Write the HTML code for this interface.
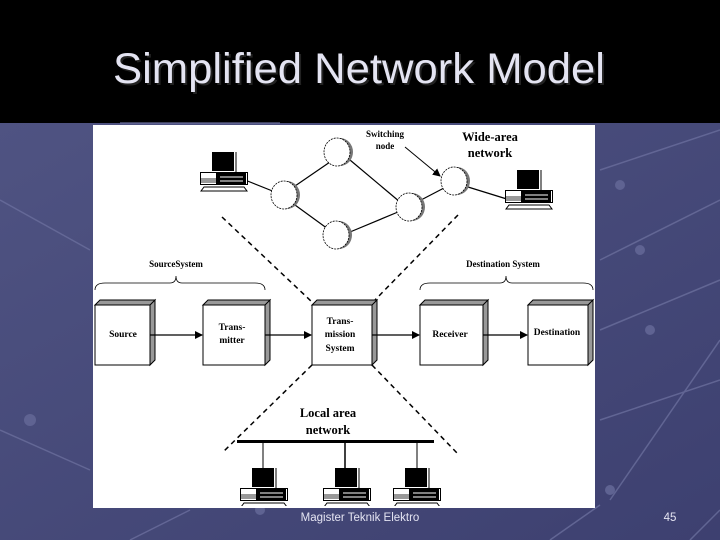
<!DOCTYPE html>
<html><head><meta charset="utf-8"><style>
html,body{margin:0;padding:0;width:720px;height:540px;overflow:hidden;background:#000}
svg{display:block}
</style></head><body>
<svg width="720" height="540" viewBox="0 0 720 540" xmlns="http://www.w3.org/2000/svg">
<defs>
<linearGradient id="bg" x1="0" y1="0" x2="1" y2="1">
<stop offset="0" stop-color="#4f5382"/><stop offset="1" stop-color="#3d4070"/>
</linearGradient>
<marker id="ah" markerWidth="8" markerHeight="8" refX="7" refY="4" orient="auto" markerUnits="userSpaceOnUse">
<path d="M0,0 L8,4 L0,8 z" fill="#000"/></marker>
<g id="pc">
<rect x="12" y="2" width="22" height="19" fill="#000"/>
<line x1="36" y1="2" x2="36" y2="22" stroke="#000" stroke-width="1"/>
<rect x="0.5" y="22.5" width="47" height="12" fill="#fff" stroke="#000"/>
<rect x="1" y="28" width="15" height="5" fill="#999"/>
<rect x="16" y="23" width="30" height="11" fill="#000"/>
<line x1="20" y1="27" x2="43" y2="27" stroke="#fff"/>
<line x1="20" y1="31" x2="43" y2="31" stroke="#fff"/>
<path d="M4,37 L44,37 L47,41 L1,41 z" fill="#fff" stroke="#000"/>
</g>
<g id="node">
<ellipse cx="3" cy="0" rx="13" ry="14" fill="#777"/>
<ellipse cx="0" cy="0" rx="13" ry="14" fill="#fff" stroke="#000" stroke-width="0.8" stroke-dasharray="2,1"/>
</g>
</defs>
<rect x="0" y="123" width="720" height="417" fill="url(#bg)"/>
<g stroke="#6a6e9c" stroke-width="1.5" fill="none" opacity="0.8">
<line x1="0" y1="200" x2="90" y2="250"/><line x1="600" y1="170" x2="720" y2="130"/>
<line x1="600" y1="260" x2="720" y2="200"/><line x1="600" y1="330" x2="720" y2="280"/>
<line x1="600" y1="420" x2="720" y2="380"/><line x1="610" y1="500" x2="720" y2="340"/>
<line x1="0" y1="430" x2="90" y2="470"/><line x1="130" y1="540" x2="190" y2="510"/>
<line x1="550" y1="540" x2="600" y2="505"/><line x1="690" y1="540" x2="720" y2="510"/>
<line x1="120" y1="123" x2="280" y2="123"/>
</g>
<g fill="#5f6392"><circle cx="620" cy="185" r="5"/><circle cx="640" cy="250" r="5"/><circle cx="650" cy="330" r="5"/><circle cx="610" cy="490" r="5"/><circle cx="30" cy="420" r="6"/><circle cx="260" cy="510" r="5"/></g>
<text x="359" y="83" font-family="Liberation Sans, sans-serif" font-size="43" fill="#222" text-anchor="middle" transform="translate(2,2)" textLength="492" lengthAdjust="spacingAndGlyphs">Simplified Network Model</text>
<text x="359" y="83" font-family="Liberation Sans, sans-serif" font-size="43" fill="#e4e4f2" text-anchor="middle" textLength="492" lengthAdjust="spacingAndGlyphs">Simplified Network Model</text>

<rect x="93" y="125" width="502" height="383" fill="#fff"/>
<line x1="405" y1="147" x2="440" y2="176" stroke="#000" marker-end="url(#ah)"/>
<g stroke="#000" stroke-width="1.2">
<line x1="245" y1="180" x2="275" y2="192"/>
<line x1="295" y1="186" x2="330" y2="162"/>
<line x1="295" y1="205" x2="328" y2="229"/>
<line x1="350" y1="160" x2="400" y2="202"/>
<line x1="350" y1="232" x2="398" y2="212"/>
<line x1="421" y1="200" x2="444" y2="188"/>
<line x1="468" y1="187" x2="510" y2="200"/>
</g>
<use href="#node" x="337" y="152"/>
<use href="#node" x="284" y="195"/>
<use href="#node" x="336" y="235"/>
<use href="#node" x="409" y="207"/>
<use href="#node" x="454" y="181"/>
<use href="#pc" x="200" y="150"/>
<use href="#pc" x="505" y="168"/>
<g stroke="#000" stroke-width="1.5" stroke-dasharray="5,4" fill="none">
<line x1="222" y1="217" x2="312" y2="302"/>
<line x1="458" y1="215" x2="375" y2="300"/>
<line x1="312" y1="365" x2="222" y2="453"/>
<line x1="372" y1="365" x2="457" y2="453"/>
</g>
<g fill="none" stroke="#000" stroke-width="0.8">
<path d="M95,290 Q95,283 105,283 L170,283 Q176,283 176,276 Q176,283 182,283 L255,283 Q265,283 265,290"/>
<path d="M420,290 Q420,283 430,283 L500,283 Q506,283 506,276 Q506,283 512,283 L583,283 Q593,283 593,290"/>
</g>
<g stroke="#000" stroke-width="1">
<g><path d="M95,305 L100,300 L155,300 L150,305 z M150,305 L155,300 L155,360 L150,365 z" fill="#999"/><rect x="95" y="305" width="55" height="60" fill="#fff"/></g>
<g><path d="M203,305 L208,300 L270,300 L265,305 z M265,305 L270,300 L270,360 L265,365 z" fill="#999"/><rect x="203" y="305" width="62" height="60" fill="#fff"/></g>
<g><path d="M312,305 L317,300 L377,300 L372,305 z M372,305 L377,300 L377,360 L372,365 z" fill="#999"/><rect x="312" y="305" width="60" height="60" fill="#fff"/></g>
<g><path d="M420,305 L425,300 L488,300 L483,305 z M483,305 L488,300 L488,360 L483,365 z" fill="#999"/><rect x="420" y="305" width="63" height="60" fill="#fff"/></g>
<g><path d="M528,305 L533,300 L593,300 L588,305 z M588,305 L593,300 L593,360 L588,365 z" fill="#999"/><rect x="528" y="305" width="60" height="60" fill="#fff"/></g>
</g>
<g stroke="#000" stroke-width="1.3" marker-end="url(#ah)">
<line x1="150" y1="335" x2="202" y2="335"/>
<line x1="265" y1="335" x2="311" y2="335"/>
<line x1="372" y1="335" x2="419" y2="335"/>
<line x1="483" y1="335" x2="527" y2="335"/>
</g>
<g font-family="Liberation Serif, serif" font-weight="bold" fill="#000" text-anchor="middle">
<text x="385" y="137" font-size="9">Switching</text>
<text x="385" y="149" font-size="9">node</text>
<text x="490" y="141" font-size="12.5">Wide-area</text>
<text x="490" y="157" font-size="12.5">network</text>
<text x="176" y="267" font-size="9">SourceSystem</text>
<text x="503" y="267" font-size="9">Destination System</text>
<text x="123" y="337" font-size="9.5">Source</text>
<text x="232" y="330" font-size="9.5">Trans-</text>
<text x="232" y="343" font-size="9.5">mitter</text>
<text x="340" y="324" font-size="9.5">Trans-</text>
<text x="340" y="337" font-size="9.5">mission</text>
<text x="340" y="351" font-size="9.5">System</text>
<text x="450" y="337" font-size="9.5">Receiver</text>
<text x="557" y="335" font-size="9.5">Destination</text>
<text x="328" y="417" font-size="12.5">Local area</text>
<text x="328" y="434" font-size="12.5">network</text>
</g>
<rect x="237" y="440" width="197" height="3" fill="#000"/>
<g stroke="#000"><line x1="263" y1="443" x2="263" y2="468"/><line x1="345" y1="443" x2="345" y2="468" stroke-width="1.5"/><line x1="417" y1="443" x2="417" y2="468"/></g>
<use href="#pc" x="240" y="466"/>
<use href="#pc" x="323" y="466"/>
<use href="#pc" x="393" y="466"/>
<rect x="93" y="506" width="502" height="2" fill="#fff"/>
<text x="360" y="521" font-family="Liberation Sans, sans-serif" font-size="11.5" fill="#e4e4f2" text-anchor="middle">Magister Teknik Elektro</text>
<text x="670" y="521" font-family="Liberation Sans, sans-serif" font-size="11.5" fill="#e4e4f2" text-anchor="middle">45</text>
</svg>
</body></html>
